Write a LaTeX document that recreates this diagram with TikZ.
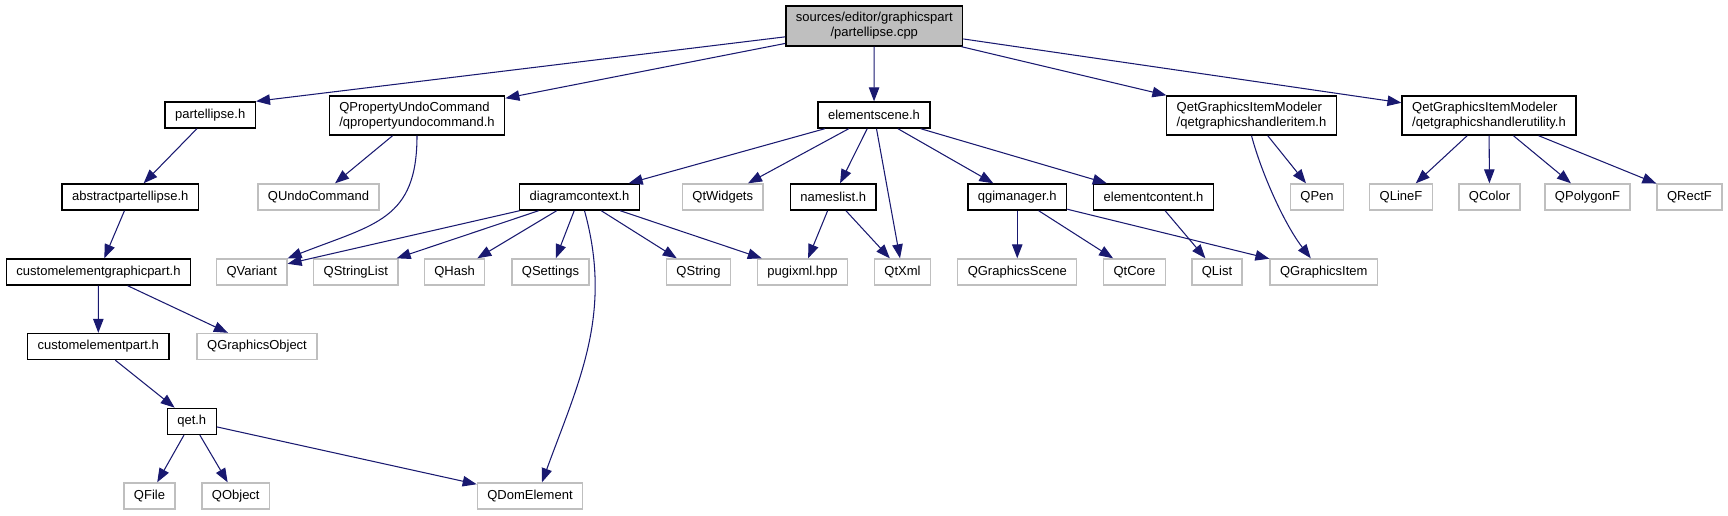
\documentclass[tikz,border=0pt]{standalone}
\usepackage{fontspec}
\setmainfont{Liberation Sans}
\usepackage{tikz}
\usetikzlibrary{arrows.meta, positioning}
\definecolor{EdgeNavy}{RGB}{25,25,112}
\definecolor{SysGrey}{RGB}{191,191,191}
\definecolor{SrcGrey}{RGB}{191,191,191}

\begin{document}
\begin{tikzpicture}[
  x=0.02cm, y=-0.02cm,
  hdr/.style={draw=black, fill=white, line width=0.8pt, inner xsep=0.2cm, inner ysep=0pt,
              minimum height=0.52cm, font=\fontsize{7.4}{8.6}\selectfont},
  hdrtwo/.style={hdr, align=left, minimum height=0.78cm},
  sys/.style={hdr, draw=SysGrey},
  srcbox/.style={hdr, fill=SrcGrey, align=center, minimum height=0.8cm},
  arr/.style={-{Triangle[length=0.28cm, width=0.21cm]}, draw=EdgeNavy, line width=0.6pt},
]
\useasboundingbox (0,0) rectangle (1728,515);
%% Source file
\node[srcbox] (src) at (874.25,26) {sources/editor/graphicspart\\/partellipse.cpp};
%% Row 1
\node[hdr]    (partellipse) at (210.25,115) {partellipse.h};
\node[hdrtwo] (qpuc)  at (417,115.5)    {QPropertyUndoCommand\\/qpropertyundocommand.h};
\node[hdr]    (escene) at (874,115)     {elementscene.h};
\node[hdrtwo] (hitem) at (1251.5,115.5) {QetGraphicsItemModeler\\/qetgraphicshandleritem.h};
\node[hdrtwo] (hutil) at (1489,115.5)   {QetGraphicsItemModeler\\/qetgraphicshandlerutility.h};
%% Row 2
\node[hdr] (abspart)  at (130.25,197) {abstractpartellipse.h};
\node[sys] (qundo)    at (318.5,197)  {QUndoCommand};
\node[hdr] (diagctx)  at (579.5,197)  {diagramcontext.h};
\node[sys] (qtwidgets) at (722.75,197) {QtWidgets};
\node[hdr] (names)    at (833.25,197) {nameslist.h};
\node[hdr] (qgiman)   at (1017.25,197) {qgimanager.h};
\node[hdr] (econtent) at (1153.5,197) {elementcontent.h};
\node[sys] (qpen)     at (1317,197)   {QPen};
\node[sys] (qlinef)   at (1401,197)   {QLineF};
\node[sys] (qcolor)   at (1489.5,197) {QColor};
\node[sys] (qpolygonf) at (1587.5,197) {QPolygonF};
\node[sys] (qrectf)   at (1689.5,197) {QRectF};
%% Row 3
\node[hdr] (cegpart)  at (98.5,272)   {customelementgraphicpart.h};
\node[sys] (qvariant) at (251.75,272) {QVariant};
\node[sys] (qstrlist) at (355.8,272)  {QStringList};
\node[sys] (qhash)    at (454.5,272)  {QHash};
\node[sys] (qsettings) at (550.5,272) {QSettings};
\node[sys] (qstring)  at (698.5,272)  {QString};
\node[sys] (pugixml)  at (802.5,272)  {pugixml.hpp};
\node[sys] (qtxml)    at (902.5,272)  {QtXml};
\node[sys] (qgscene)  at (1017.25,272) {QGraphicsScene};
\node[sys] (qtcore)   at (1134.5,272) {QtCore};
\node[sys] (qlist)    at (1217,272)   {QList};
\node[sys] (qgitem)   at (1323.8,272) {QGraphicsItem};
%% Rows 4 to 6
\node[hdr] (cepart)   at (98.25,346.5) {customelementpart.h};
\node[sys] (qgobject) at (257,346.5)   {QGraphicsObject};
\node[hdr] (qet)      at (191.75,421.35) {qet.h};
\node[sys] (qfile)    at (149.5,496)   {QFile};
\node[sys] (qobject)  at (235.75,496)  {QObject};
\node[sys] (qdom)     at (530,496)     {QDomElement};
%% Arrows from the source file
\draw[arr] (src) -- (partellipse.north east);
\draw[arr] (src) -- (qpuc);
\draw[arr] (src) -- (escene);
\draw[arr] (src) -- (hitem);
\draw[arr] (src) -- (hutil);
%% Left branch
\draw[arr] (partellipse) -- (abspart);
\draw[arr] (abspart) -- (cegpart);
\draw[arr] (cegpart) -- (cepart);
\draw[arr] (cegpart) -- (qgobject);
\draw[arr] (cepart) -- (qet);
\draw[arr] (qet) -- (qfile);
\draw[arr] (qet) -- (qobject);
\draw[arr] (qet) -- (qdom);
\draw[arr] (qpuc) -- (qundo);
\draw[arr] (qpuc.south) .. controls (417,220) and (375,224) .. (qvariant.north east);
%% elementscene.h
\draw[arr] (escene) -- (diagctx);
\draw[arr] (escene) -- (qtwidgets);
\draw[arr] (escene) -- (names);
\draw[arr] (escene) -- (qtxml);
\draw[arr] (escene) -- (qgiman);
\draw[arr] (escene) -- (econtent);
\draw[arr] (diagctx) -- (qvariant);
\draw[arr] (diagctx) -- (qstrlist);
\draw[arr] (diagctx) -- (qhash);
\draw[arr] (diagctx) -- (qsettings);
\draw[arr] (diagctx) -- (qstring);
\draw[arr] (diagctx) -- (pugixml);
\draw[arr] ([xshift=0.1cm]diagctx.south) .. controls (613,314) and (579,381) .. ([xshift=0.24cm]qdom.north);
\draw[arr] (names) -- (pugixml);
\draw[arr] (names) -- (qtxml);
\draw[arr] (qgiman) -- (qgscene);
\draw[arr] (qgiman) -- (qtcore);
\draw[arr] (qgiman) -- (qgitem);
\draw[arr] (econtent) -- (qlist);
%% QetGraphicsItemModeler
\draw[arr] (hitem) -- (qpen);
\draw[arr] (hitem.south) .. controls (1262,175) and (1285,225) .. ([xshift=-0.26cm]qgitem.north);
\draw[arr] (hutil) -- (qlinef);
\draw[arr] (hutil) -- (qcolor);
\draw[arr] (hutil) -- (qpolygonf);
\draw[arr] (hutil) -- (qrectf);
\end{tikzpicture}
\end{document}
